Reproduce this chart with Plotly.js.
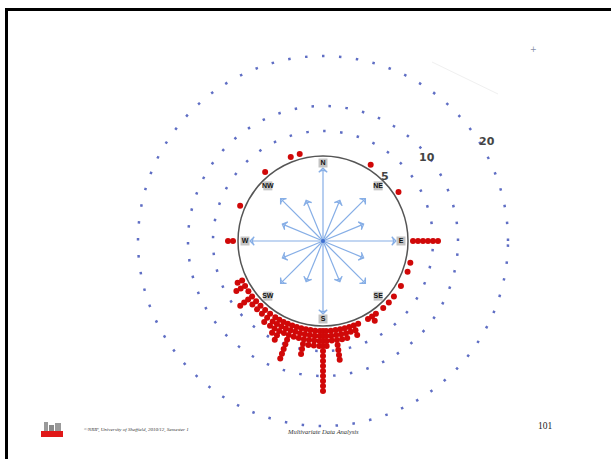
<!DOCTYPE html>
<html><head><meta charset="utf-8">
<script src="https://cdn.plot.ly/plotly-3.0.1.min.js"></script>
<style>html,body{margin:0;padding:0;background:#fff}#chart{width:611px;height:459px}</style>
</head><body><div id="chart"></div>
<script>
// Wind direction (compass degrees) and number of observations (one dot each)
const directions = [244, 240, 236, 232, 228, 224, 220, 216, 212, 209, 206, 203, 200, 197, 194, 191, 188, 185, 182, 180, 178, 175, 172, 169, 166, 163, 160, 157, 150, 147, 144, 138, 133, 128, 120, 110, 104, 90, 57, 32, 270, 293, 320, 339, 345];
const counts     = [2,   3,   1,   4,   2,   2,   2,   3,   3,   4,   5,   3,   8,   3,   3,   6,   4,   4,   4,   13,  4,   3,   7,   3,   3,   2,   3,   1,   1,   2,   1,   1,   1,   1,   1,   1,   1,   6,   1,  1,  2,   1,   1,   1,   1];
const ringValues = [5, 10, 20];
const ringLabels = ['5', '10', '20'];
const compassLabels = ['N', 'NE', 'E', 'SE', 'S', 'SW', 'W', 'NW'];
const compassAngles = [0, 45, 90, 135, 180, 225, 270, 315];
const arrowAngles = [0, 22.5, 45, 67.5, 90, 112.5, 135, 157.5, 180, 202.5, 225, 247.5, 270, 292.5, 315, 337.5];

const W = 611, H = 459;
const px = x => x / W, py = y => 1 - y / H;
const CX = 323, CY = 241, R0 = 85, R1 = 190;

// dots
const dotR = [], dotT = [];
directions.forEach((d, i) => { for (let k = 1; k <= counts[i]; k++) { dotR.push(k); dotT.push(d); } });

// arrows
const arrR = [], arrT = [], headR = [], headT = [];
arrowAngles.forEach((a, i) => {
  const L = (i % 4 === 0) ? 73 : (i % 2 === 0 ? 60 : 44);
  arrR.push(0, L, null); arrT.push(a, a, null);
  headR.push(L); headT.push(a);
});

const traces = [
  {type: 'scatterpolar', subplot: 'polar', r: dotR, theta: dotT, mode: 'markers',
   marker: {color: '#d00808', size: 6}, cliponaxis: false, hoverinfo: 'skip', showlegend: false},
  {type: 'scatterpolar', subplot: 'polar2', r: arrR, theta: arrT, mode: 'lines',
   line: {color: '#86aee6', width: 1.2}, hoverinfo: 'skip', showlegend: false},
  {type: 'scatterpolar', subplot: 'polar2', r: headR, theta: headT, mode: 'markers',
   marker: {symbol: 'arrow-wide-open', size: 6, color: '#86aee6', angle: headT, line: {width: 1.2, color: '#86aee6'}},
   hoverinfo: 'skip', showlegend: false},
  {type: 'scatterpolar', subplot: 'polar2', r: [0], theta: [0], mode: 'markers',
   marker: {color: '#3f6fd0', size: 4}, hoverinfo: 'skip', showlegend: false},
  {type: 'scatterpolar', subplot: 'polar2', r: compassAngles.map(() => 78), theta: compassAngles,
   mode: 'markers+text', text: compassLabels, textposition: 'middle center',
   textfont: {family: 'Liberation Sans', size: 7, color: '#111', weight: 'bold'},
   marker: {symbol: 'square', size: 9, color: '#c4c4c4'}, cliponaxis: false, hoverinfo: 'skip', showlegend: false}
];

const ringPos = [[385, 176], [437, 158], [497, 133]];
const annotations = ringLabels.map((t, i) => ({
  text: t, xref: 'paper', yref: 'paper', x: px(ringPos[i][0]), y: py(ringPos[i][1]),
  showarrow: false, font: {family: 'DejaVu Sans', size: 11, color: '#444', weight: 'bold'}
}));
annotations.push(
  {text: '<i>©NRIF, University of Sheffield, 2010/12, Semester 1</i>', xref: 'paper', yref: 'paper',
   x: px(82), y: py(435), xanchor: 'left', showarrow: false,
   font: {family: 'Liberation Serif', size: 5, color: '#333'}},
  {text: '<i>Multivariate Data Analysis</i>', xref: 'paper', yref: 'paper',
   x: px(323), y: py(437), showarrow: false,
   font: {family: 'Liberation Serif', size: 6.5, color: '#333'}},
  {text: '101', xref: 'paper', yref: 'paper', x: px(555), y: py(433), showarrow: false,
   font: {family: 'Liberation Serif', size: 9.5, color: '#222'}},
  {text: '+', xref: 'paper', yref: 'paper', x: px(539), y: py(43), showarrow: false,
   font: {family: 'DejaVu Sans', size: 8, color: '#8890a8'}}
);

const shapes = [
  {type: 'line', xref: 'paper', yref: 'paper', x0: px(6.5), x1: px(6.5), y0: py(8), y1: py(459), line: {color: '#000', width: 3}},
  {type: 'line', xref: 'paper', yref: 'paper', x0: px(5), x1: px(611), y0: py(9.5), y1: py(9.5), line: {color: '#000', width: 3}},
  {type: 'line', xref: 'paper', yref: 'paper', x0: px(432), x1: px(498), y0: py(62), y1: py(94), line: {color: '#f0f0f0', width: 1}},
  {type: 'rect', xref: 'paper', yref: 'paper', x0: px(44), x1: px(48), y0: py(431), y1: py(422), fillcolor: '#9a9a9a', line: {width: 0}},
  {type: 'rect', xref: 'paper', yref: 'paper', x0: px(49), x1: px(54), y0: py(431), y1: py(425), fillcolor: '#8a8a8a', line: {width: 0}},
  {type: 'rect', xref: 'paper', yref: 'paper', x0: px(55), x1: px(61), y0: py(431), y1: py(423), fillcolor: '#9a9a9a', line: {width: 0}},
  {type: 'rect', xref: 'paper', yref: 'paper', x0: px(41), x1: px(63), y0: py(437), y1: py(431), fillcolor: '#e01818', line: {width: 0}}
];

const layout = {
  width: W, height: H, margin: {l: 0, r: 0, t: 0, b: 0},
  paper_bgcolor: '#fff', showlegend: false,
  polar: {
    domain: {x: [px(CX - R1), px(CX + R1)], y: [py(CY + R1), py(CY - R1)]},
    hole: R0 / R1, bgcolor: 'rgba(0,0,0,0)',
    radialaxis: {range: [0, 21], tickvals: ringValues, showticklabels: false, ticks: '', showline: false,
                 gridcolor: '#5f6ec4', gridwidth: 2.5, griddash: '2.5px,14.5px'},
    angularaxis: {rotation: 90, direction: 'clockwise', showgrid: false, showline: false, showticklabels: false, ticks: ''}
  },
  polar2: {
    domain: {x: [px(CX - R0), px(CX + R0)], y: [py(CY + R0), py(CY - R0)]},
    bgcolor: 'rgba(0,0,0,0)',
    radialaxis: {range: [0, R0], visible: false, showgrid: false},
    angularaxis: {rotation: 90, direction: 'clockwise', showgrid: false, showline: true, linecolor: '#555', linewidth: 1.5,
                  showticklabels: false, ticks: ''}
  },
  annotations: annotations, shapes: shapes
};

Plotly.newPlot('chart', traces, layout, {staticPlot: true, displayModeBar: false});
</script></body></html>
